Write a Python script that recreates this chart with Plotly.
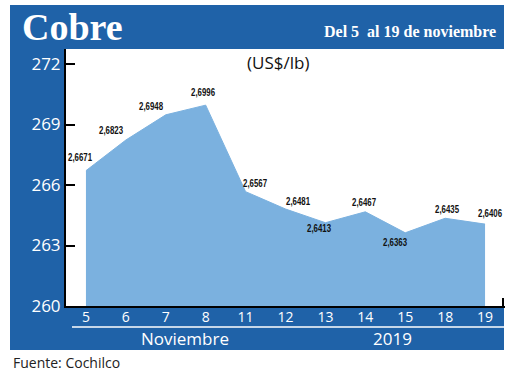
import plotly.graph_objects as go

# ---- data ----
days = ["5", "6", "7", "8", "11", "12", "13", "14", "15", "18", "19"]
prices = [266.71, 268.23, 269.48, 269.96, 265.67, 264.81, 264.13, 264.67, 263.63, 264.35, 264.06]
price_labels = ["2,6671", "2,6823", "2,6948", "2,6996", "2,6567", "2,6481",
                "2,6413", "2,6467", "2,6363", "2,6435", "2,6406"]
y_ticks = [260, 263, 266, 269, 272]
month_label = "Noviembre"
year_label = "2019"

# ---- styling / layout helpers ----
W, H = 520, 373
ML, MR, MT, MB = 66, 15, 49, 67
PW, PH = W - ML - MR, H - MT - MB
BLUE = "#1f62a8"
FILL = "#7bb1df"
label_offsets = [(-6, 14), (-15, 10), (-15, 9), (-3, 13), (9, 9), (12, 8),
                 (-6, -5), (-1, 10), (-10, -9), (2, 9), (5, 11)]


def px(xp):
    return (xp - ML) / PW


def py(yp):
    return (H - MB - yp) / PH


fig = go.Figure()
fig.add_trace(go.Scatter(
    x=days, y=prices, mode="lines", fill="tozeroy",
    fillcolor=FILL, line=dict(color=FILL, width=1), hoverinfo="skip",
))

shapes = [
    # blue frame
    dict(type="rect", xref="paper", yref="paper", x0=px(10), x1=px(504), y0=py(350), y1=py(5),
         fillcolor=BLUE, line=dict(width=0), layer="below"),
    # white plot area
    dict(type="rect", xref="paper", yref="paper", x0=px(66), x1=px(504), y0=py(306), y1=py(49),
         fillcolor="white", line=dict(width=0), layer="below"),
    # white separator line under tick labels
    dict(type="line", xref="paper", yref="paper", x0=px(72), x1=px(505), y0=py(327), y1=py(327),
         line=dict(color="white", width=1.5)),
    # small end tick at right of x axis
    dict(type="line", xref="paper", yref="paper", x0=px(503), x1=px(503), y0=py(306), y1=py(298),
         line=dict(color="black", width=2)),
]

lab_font = dict(family="Liberation Sans, Arial, sans-serif", size=10.5, color="#111", weight="bold")
annotations = []
for i, (v, t, (dx, dy)) in enumerate(zip(prices, price_labels, label_offsets)):
    annotations.append(dict(x=i, y=v, xref="x", yref="y", text=t, showarrow=False,
                            xshift=dx, yshift=dy, font=lab_font))

annotations += [
    dict(text="<b>Cobre</b>", xref="paper", yref="paper", x=px(20), y=py(27), xanchor="left",
         yanchor="middle", showarrow=False,
         font=dict(family="Liberation Serif, serif", size=38, color="white")),
    dict(text="<b>Del 5\u00a0 al 19 de noviembre</b>", xref="paper", yref="paper", x=px(498), y=py(31),
         xanchor="right", yanchor="middle", showarrow=False,
         font=dict(family="Liberation Serif, serif", size=16, color="white")),
    dict(text="(US$/lb)", xref="paper", yref="paper", x=px(278), y=py(62), xanchor="center",
         yanchor="middle", showarrow=False, font=dict(family="Open Sans, sans-serif", size=17, color="#111")),
    dict(text=month_label, xref="paper", yref="paper", x=px(185), y=py(338), xanchor="center",
         yanchor="middle", showarrow=False, font=dict(family="Open Sans, sans-serif", size=17, color="white")),
    dict(text=year_label, xref="paper", yref="paper", x=px(392), y=py(338), xanchor="center",
         yanchor="middle", showarrow=False, font=dict(family="Open Sans, sans-serif", size=17, color="white")),
    dict(text="Fuente: Cochilco", xref="paper", yref="paper", x=px(11), y=py(362), xanchor="left",
         yanchor="middle", showarrow=False, font=dict(family="Open Sans, sans-serif", size=14, color="#222")),
]

fig.update_layout(
    width=W, height=H, autosize=False,
    margin=dict(l=ML, r=MR, t=MT, b=MB, pad=0),
    paper_bgcolor="white", plot_bgcolor="rgba(0,0,0,0)",
    showlegend=False,
    shapes=shapes, annotations=annotations,
    xaxis=dict(type="category", range=[-0.5, len(days) - 0.5], showgrid=False, zeroline=False,
               showline=True, linecolor="black", linewidth=2, ticks="", ticklabelstandoff=-3,
               tickfont=dict(family="Open Sans, sans-serif", size=14, color="white")),
    yaxis=dict(range=[260, 260 + (306 - 49) / ((306 - 64) / 12)], tickvals=y_ticks,
               showgrid=False, zeroline=False, showline=True, linecolor="black", linewidth=2,
               ticks="inside", ticklen=9, tickwidth=2, tickcolor="black",
               tickfont=dict(family="Open Sans, sans-serif", size=17, color="white")),
)

post = """
document.body.style.margin='0';document.body.style.padding='0';
document.querySelectorAll('text.annotation-text').forEach(function(t){
  if (/^\\d,\\d{4}$/.test(t.textContent)) {
    t.setAttribute('textLength','24');
    t.setAttribute('lengthAdjust','spacingAndGlyphs');
  }
});
"""
fig.write_html("out.html", post_script=post, config={"displayModeBar": False})
